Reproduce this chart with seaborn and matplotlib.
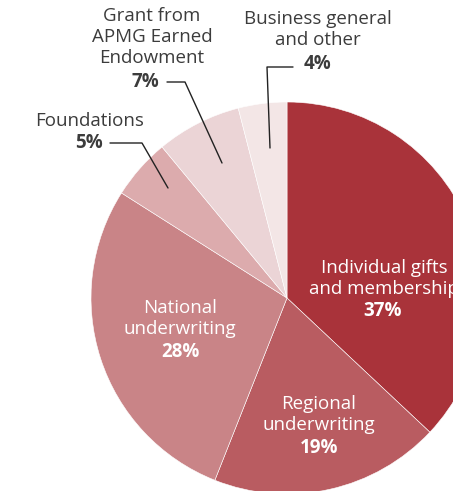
import matplotlib
matplotlib.use("Agg")
import matplotlib.pyplot as plt
import seaborn as sns

# revenue sources, clockwise from 12 o'clock
sources = ["Individual gifts\nand membership", "Regional\nunderwriting", "National\nunderwriting",
           "Foundations", "Grant from\nAPMG Earned\nEndowment", "Business general\nand other"]
shares = [37, 19, 28, 5, 7, 4]
colors = ["#A9333A", "#B95C61", "#C98487", "#DCABAD", "#EBD4D6", "#F3E6E6"]

sns.set_theme(style="white")
plt.rcParams["font.family"] = ["Open Sans", "DejaVu Sans"]

fig = plt.figure(figsize=(4.53, 4.91), dpi=100)
ax = fig.add_axes([0, 0, 1, 1])

# pie centre sits at pixel (287, 298), radius ~196 px -> 1 data unit
R = 196.0
cx, cy = 287.0, 298.0
def px(x, y):
    return (x - cx) / R, (cy - y) / R

ax.pie(shares, colors=colors, startangle=90, counterclock=False, radius=1.0,
       wedgeprops=dict(edgecolor="white", linewidth=0.4))
ax.set_xlim(px(0, 0)[0], px(453, 0)[0])
ax.set_ylim(px(0, 491)[1], px(0, 0)[1])
ax.set_aspect("auto")
ax.axis("off")

dark = "#3C3C3C"
fs = 13.5
ls = 1.2

def label(i, x, name_y, pct_x, pct_y, color):
    ax.text(*px(x, name_y), sources[i], ha="center", va="center", color=color,
            fontsize=fs, linespacing=ls)
    ax.text(*px(pct_x, pct_y), f"{shares[i]}%", ha="center", va="center",
            color=color, fontsize=fs, fontweight="bold")

# labels inside the pie
label(0, 384, 278.5, 383, 311, "white")
label(1, 319, 414.5, 319, 448, "white")
label(2, 180, 318.5, 180, 352, "white")

# labels outside the pie with leader lines
label(4, 152, 37, 145, 82, dark)
ax.plot(*zip(px(167, 82), px(185, 82), px(222, 163)), color="#222222", lw=1)

label(5, 318, 29.5, 318, 64, dark)
ax.plot(*zip(px(293, 67), px(267, 67), px(270, 148)), color="#222222", lw=1)

label(3, 90, 121, 89, 143, dark)
ax.plot(*zip(px(110, 143), px(142, 143), px(168, 188)), color="#222222", lw=1)

fig.savefig("out.png", dpi=100, facecolor="white")
